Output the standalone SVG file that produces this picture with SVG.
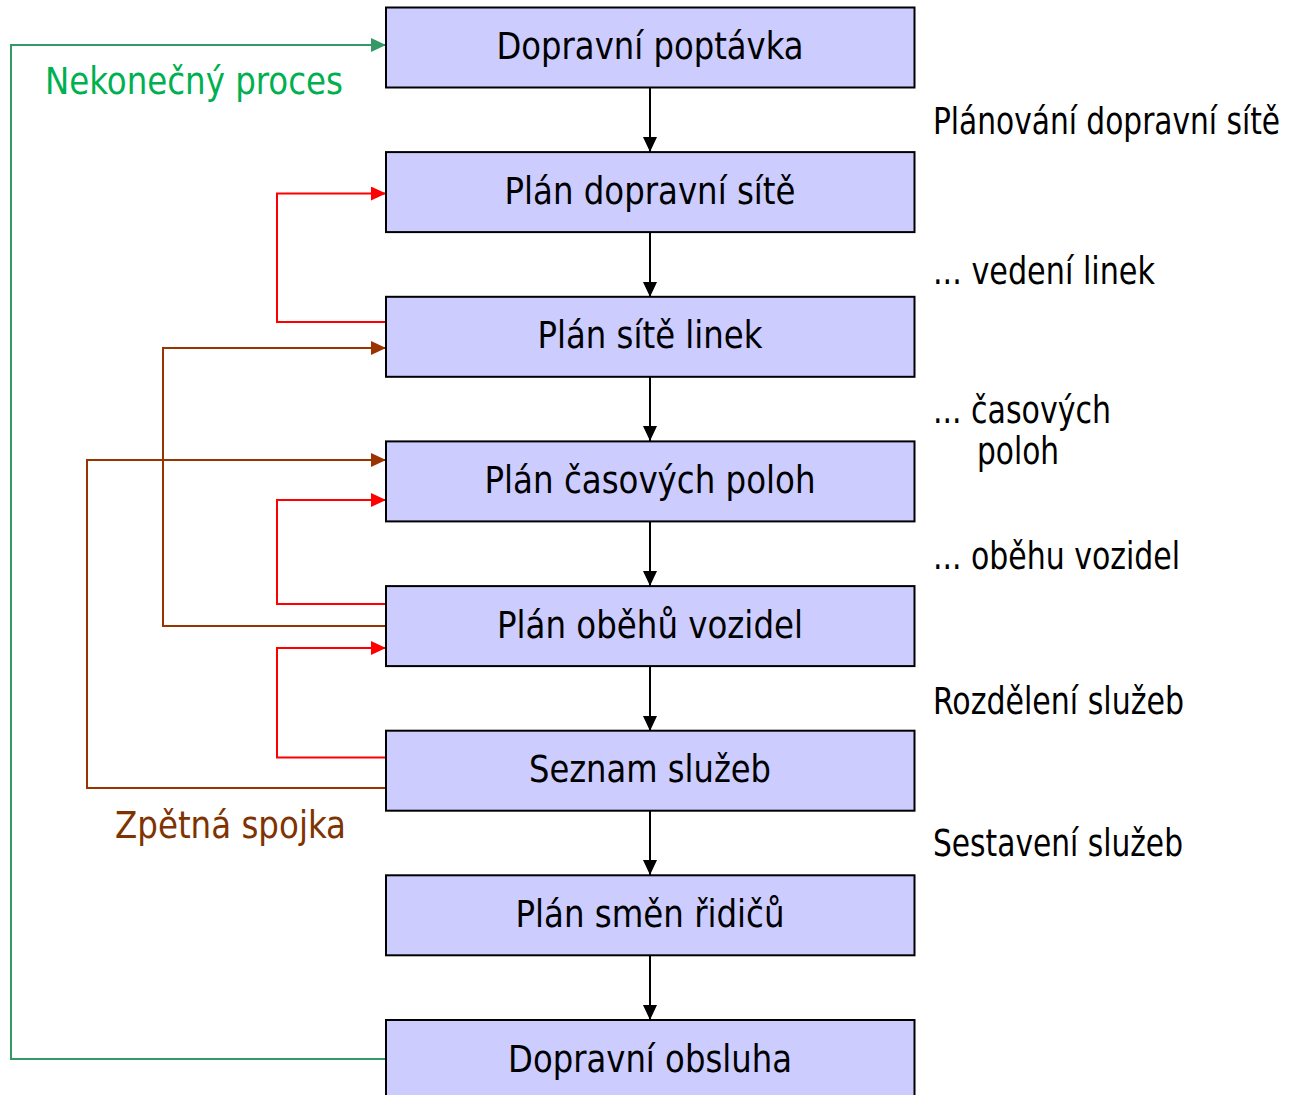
<svg xmlns="http://www.w3.org/2000/svg" width="1291" height="1095" viewBox="0 0 1291 1095">
<style>
  .box { fill: #CCCCFF; stroke: #000; stroke-width: 2; }
  .t { font-family: "DejaVu Sans Condensed", "DejaVu Sans", Verdana, sans-serif; font-size: 37px; fill: #000; }
  .c { text-anchor: middle; }
  .blk { stroke: #000; stroke-width: 2; fill: none; }
  .red { stroke: #FF0000; stroke-width: 2; fill: none; }
  .brn { stroke: #993300; stroke-width: 2; fill: none; }
  .grn { stroke: #339966; stroke-width: 2; fill: none; }
</style>
<defs>
  <marker id="aBlk" markerUnits="userSpaceOnUse" markerWidth="16" markerHeight="16" refX="15" refY="7" orient="auto"><path d="M0,0 L15,7 L0,14 Z" fill="#000"/></marker>
  <marker id="aRed" markerUnits="userSpaceOnUse" markerWidth="16" markerHeight="16" refX="15" refY="7" orient="auto"><path d="M0,0 L15,7 L0,14 Z" fill="#FF0000"/></marker>
  <marker id="aBrn" markerUnits="userSpaceOnUse" markerWidth="16" markerHeight="16" refX="15" refY="7" orient="auto"><path d="M0,0 L15,7 L0,14 Z" fill="#993300"/></marker>
  <marker id="aGrn" markerUnits="userSpaceOnUse" markerWidth="16" markerHeight="16" refX="15" refY="7" orient="auto"><path d="M0,0 L15,7 L0,14 Z" fill="#339966"/></marker>
</defs>
<rect width="1291" height="1095" fill="#fff"/>

<g id="connectors">
  <line class="blk" x1="650" y1="88" x2="650" y2="152" marker-end="url(#aBlk)"/>
  <line class="blk" x1="650" y1="233" x2="650" y2="297" marker-end="url(#aBlk)"/>
  <line class="blk" x1="650" y1="377" x2="650" y2="441" marker-end="url(#aBlk)"/>
  <line class="blk" x1="650" y1="522" x2="650" y2="586" marker-end="url(#aBlk)"/>
  <line class="blk" x1="650" y1="667" x2="650" y2="731" marker-end="url(#aBlk)"/>
  <line class="blk" x1="650" y1="811" x2="650" y2="875" marker-end="url(#aBlk)"/>
  <line class="blk" x1="650" y1="956" x2="650" y2="1020" marker-end="url(#aBlk)"/>

  <polyline class="grn" points="386,1059 11,1059 11,45 386,45" marker-end="url(#aGrn)"/>
  <polyline class="red" points="388,322 277,322 277,193.5 386,193.5" marker-end="url(#aRed)"/>
  <polyline class="brn" points="388,626 163,626 163,348 386,348" marker-end="url(#aBrn)"/>
  <polyline class="brn" points="388,788 87,788 87,460 386,460" marker-end="url(#aBrn)"/>
  <polyline class="red" points="388,604 277,604 277,500 386,500" marker-end="url(#aRed)"/>
  <polyline class="red" points="388,757.5 277,757.5 277,648 386,648" marker-end="url(#aRed)"/>
</g>

<g id="n1"><rect class="box" x="386" y="7.5" width="528.5" height="80"/><text class="t c" x="650" y="59" textLength="307" lengthAdjust="spacingAndGlyphs">Dopravní poptávka</text></g>
<g id="n2"><rect class="box" x="386" y="152.1" width="528.5" height="80"/><text class="t c" x="650" y="204" textLength="291" lengthAdjust="spacingAndGlyphs">Plán dopravní sítě</text></g>
<g id="n3"><rect class="box" x="386" y="296.8" width="528.5" height="80"/><text class="t c" x="650" y="348" textLength="225" lengthAdjust="spacingAndGlyphs">Plán sítě linek</text></g>
<g id="n4"><rect class="box" x="386" y="441.4" width="528.5" height="80"/><text class="t c" x="650" y="493" textLength="331" lengthAdjust="spacingAndGlyphs">Plán časových poloh</text></g>
<g id="n5"><rect class="box" x="386" y="586.1" width="528.5" height="80"/><text class="t c" x="650" y="638" textLength="306" lengthAdjust="spacingAndGlyphs">Plán oběhů vozidel</text></g>
<g id="n6"><rect class="box" x="386" y="730.7" width="528.5" height="80"/><text class="t c" x="650" y="782" textLength="242" lengthAdjust="spacingAndGlyphs">Seznam služeb</text></g>
<g id="n7"><rect class="box" x="386" y="875.3" width="528.5" height="80"/><text class="t c" x="650" y="927" textLength="269" lengthAdjust="spacingAndGlyphs">Plán směn řidičů</text></g>
<g id="n8"><rect class="box" x="386" y="1020" width="528.5" height="80"/><text class="t c" x="650" y="1072" textLength="284" lengthAdjust="spacingAndGlyphs">Dopravní obsluha</text></g>

<g id="labels">
  <text class="t" x="45" y="94" style="fill:#00B050" textLength="298" lengthAdjust="spacingAndGlyphs">Nekonečný proces</text>
  <text class="t" x="115" y="838" style="fill:#7F3300" textLength="231" lengthAdjust="spacingAndGlyphs">Zpětná spojka</text>
  <text class="t" transform="translate(933,134) scale(1,1.12)" x="0" y="0" style="font-size:33px" textLength="347" lengthAdjust="spacingAndGlyphs">Plánování dopravní sítě</text>
  <text class="t" x="933" y="284" textLength="222" lengthAdjust="spacingAndGlyphs">... vedení linek</text>
  <text class="t" x="933" y="423" textLength="178" lengthAdjust="spacingAndGlyphs">... časových</text>
  <text class="t" x="977" y="464" textLength="82" lengthAdjust="spacingAndGlyphs">poloh</text>
  <text class="t" x="933" y="569" textLength="247" lengthAdjust="spacingAndGlyphs">... oběhu vozidel</text>
  <text class="t" x="933" y="714" textLength="251" lengthAdjust="spacingAndGlyphs">Rozdělení služeb</text>
  <text class="t" x="933" y="856" textLength="250" lengthAdjust="spacingAndGlyphs">Sestavení služeb</text>
</g>
</svg>
